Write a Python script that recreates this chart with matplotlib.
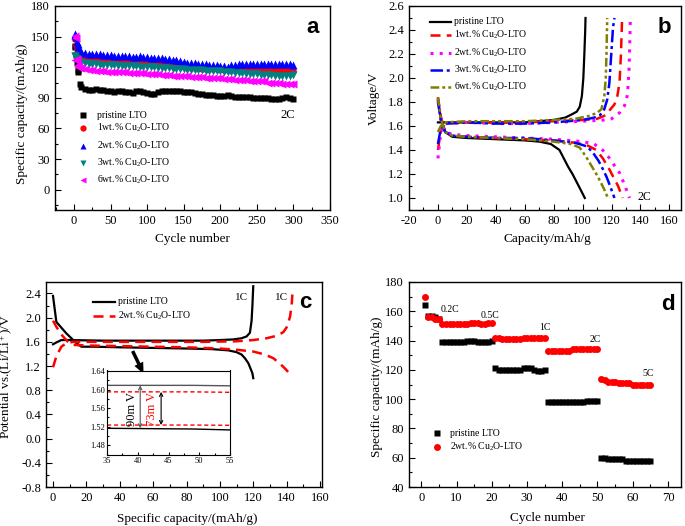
import numpy as np
import matplotlib
matplotlib.use("Agg")
import matplotlib.pyplot as plt
from matplotlib.lines import Line2D
from matplotlib.ticker import MultipleLocator

plt.rcParams['font.family'] = ['Liberation Serif', 'DejaVu Serif']
plt.rcParams['mathtext.fontset'] = 'custom'
plt.rcParams['mathtext.rm'] = 'Liberation Serif'
plt.rcParams['mathtext.it'] = 'Liberation Serif:italic'
plt.rcParams['axes.unicode_minus'] = False

W, H = 685, 526

# ---------------- data: panel a (cycling at 2C) ----------------
cyc_a = [1, 2, 3, 4, 5, 6, 8, 10] + list(range(15, 301, 5))
cap_a_pristine = [141, 140, 132, 124, 117, 115, 104, 101,
                  99, 98, 98, 99, 98, 98, 97, 97, 96, 97,
                  97, 96, 96, 95, 97, 97, 96, 95, 94, 94,
                  96, 97, 97, 97, 97, 97, 97, 96, 96, 96,
                  95, 94, 94, 93, 93, 93, 92, 92, 92, 93,
                  92, 91, 91, 91, 91, 91, 90, 90, 90, 90,
                  90, 89, 89, 89, 90, 91, 90, 89]
cap_a_1wt = [149, 148, 142, 138, 136, 132, 129, 128,
             128, 128, 127, 127, 127, 127, 126, 126, 126, 126,
             126, 126, 125, 125, 125, 125, 125, 125, 124, 124,
             123, 123, 122, 122, 121, 121, 121, 120, 120, 119,
             119, 119, 118, 118, 118, 118, 118, 118, 117, 117,
             117, 117, 117, 117, 117, 117, 117, 117, 117, 117,
             117, 117, 117, 117, 117, 117, 116, 116]
cap_a_2wt = [152, 153, 150, 145, 143, 140, 137, 135,
             134, 133, 133, 133, 133, 132, 132, 132, 131, 131,
             131, 131, 131, 130, 130, 131, 130, 130, 129, 129,
             129, 129, 128, 128, 127, 127, 126, 125, 124, 124,
             124, 123, 123, 123, 122, 122, 122, 121, 121, 120,
             122, 122, 123, 123, 123, 123, 123, 123, 123, 123,
             123, 123, 123, 123, 123, 123, 123, 122]
cap_a_3wt = [131, 131, 129, 128, 127, 126, 125, 124,
             124, 123, 123, 123, 122, 122, 122, 122, 122, 121,
             121, 121, 121, 121, 121, 120, 120, 120, 120, 120,
             119, 119, 119, 119, 118, 118, 118, 118, 117, 117,
             117, 117, 117, 116, 116, 116, 116, 116, 115, 115,
             115, 114, 114, 114, 113, 113, 113, 113, 112, 112,
             112, 112, 111, 111, 111, 111, 111, 112]
cap_a_6wt = [127, 151, 149, 128, 122, 120, 119, 119,
             118, 117, 117, 116, 116, 116, 115, 115, 115, 115,
             115, 115, 114, 114, 114, 114, 114, 113, 113, 113,
             113, 112, 112, 112, 111, 111, 111, 111, 111, 110,
             110, 110, 110, 109, 109, 109, 109, 109, 108, 108,
             108, 107, 107, 107, 107, 106, 106, 106, 106, 106,
             105, 105, 105, 105, 104, 104, 104, 104]

# ---------------- data: panel b (charge/discharge at 2C) ----------------
b_pristine_dis_x = [0, 2, 5, 10, 20, 40, 60, 70, 78, 84, 87, 90, 93, 96, 99, 101.5]
b_pristine_dis_v = [1.82, 1.66, 1.55, 1.51, 1.50, 1.49, 1.48, 1.47, 1.45, 1.40, 1.33, 1.26, 1.20, 1.13, 1.06, 1.00]
b_pristine_chg_x = [0, 5, 20, 40, 60, 70, 80, 88, 93, 96, 98, 99.5, 100.5, 101.2, 101.8, 102]
b_pristine_chg_v = [1.63, 1.63, 1.63, 1.63, 1.63, 1.64, 1.65, 1.67, 1.70, 1.72, 1.76, 1.85, 2.0, 2.2, 2.4, 2.5]

b_1wt_dis_x = [0, 2, 5, 10, 20, 40, 60, 80, 95, 103, 109.5, 114, 118, 121, 124.5, 127.7]
b_1wt_dis_v = [1.84, 1.68, 1.55, 1.52, 1.51, 1.50, 1.49, 1.48, 1.46, 1.44, 1.40, 1.33, 1.25, 1.18, 1.10, 1.00]
b_1wt_chg_x = [0, 2, 5, 20, 40, 60, 80, 100, 110, 116, 118.6, 122, 124, 125.5, 126.5, 127.3]
b_1wt_chg_v = [1.40, 1.56, 1.62, 1.63, 1.63, 1.63, 1.64, 1.65, 1.66, 1.69, 1.73, 1.78, 1.85, 1.96, 2.2, 2.5]

b_2wt_dis_x = [0, 2, 5, 10, 20, 40, 60, 80, 100, 108, 113.8, 118, 122, 125.5, 129, 132.4]
b_2wt_dis_v = [1.82, 1.66, 1.55, 1.53, 1.52, 1.51, 1.50, 1.49, 1.47, 1.45, 1.40, 1.34, 1.27, 1.21, 1.11, 1.00]
b_2wt_chg_x = [0, 2, 5, 20, 40, 60, 80, 100, 115, 120, 125.5, 129, 131, 132.2, 133]
b_2wt_chg_v = [1.33, 1.55, 1.62, 1.63, 1.62, 1.62, 1.63, 1.64, 1.65, 1.66, 1.71, 1.77, 1.86, 2.1, 2.5]

b_3wt_dis_x = [0, 2, 5, 10, 20, 40, 60, 80, 95, 103, 107, 111, 114, 116.4, 119, 122]
b_3wt_dis_v = [1.80, 1.65, 1.55, 1.52, 1.51, 1.50, 1.50, 1.48, 1.46, 1.43, 1.38, 1.31, 1.24, 1.18, 1.10, 1.00]
b_3wt_chg_x = [0, 2, 5, 20, 40, 60, 80, 100, 108, 112, 115, 117, 118.5, 119.8, 121, 122]
b_3wt_chg_v = [1.45, 1.58, 1.62, 1.63, 1.62, 1.62, 1.63, 1.65, 1.67, 1.69, 1.74, 1.82, 1.96, 2.2, 2.42, 2.5]

b_6wt_dis_x = [0, 2, 5, 10, 20, 40, 60, 80, 92, 98, 102.6, 106, 109, 111.7, 115, 117.5]
b_6wt_dis_v = [1.84, 1.66, 1.55, 1.52, 1.51, 1.50, 1.49, 1.47, 1.45, 1.42, 1.34, 1.27, 1.21, 1.15, 1.07, 1.00]
b_6wt_chg_x = [0, 2, 5, 20, 40, 60, 80, 95, 103, 106, 110, 113, 115, 116, 116.5, 117]
b_6wt_chg_v = [1.55, 1.60, 1.63, 1.64, 1.64, 1.64, 1.65, 1.66, 1.68, 1.69, 1.71, 1.74, 1.85, 2.0, 2.2, 2.5]

# ---------------- data: panel c (1C curves + inset) ----------------
c_pristine_dis_x = [0, 2, 8, 14, 17, 25, 40, 60, 80, 95, 105, 110, 113, 115, 117, 118.5, 119.5, 120]
c_pristine_dis_v = [2.36, 1.93, 1.74, 1.58, 1.52, 1.52, 1.51, 1.50, 1.49, 1.48, 1.46, 1.43, 1.39, 1.33, 1.25, 1.15, 1.08, 1.00]
c_pristine_chg_x = [0, 2, 5, 10, 30, 60, 90, 100, 108, 113, 116, 118, 119, 119.5, 120]
c_pristine_chg_v = [1.56, 1.59, 1.63, 1.63, 1.62, 1.62, 1.62, 1.63, 1.64, 1.66, 1.69, 1.75, 1.95, 2.2, 2.52]
c_2wt_dis_x = [0, 2, 5, 9, 12, 20, 40, 60, 80, 100, 110, 120, 127, 132, 136, 139, 141, 143]
c_2wt_dis_v = [1.95, 1.85, 1.72, 1.60, 1.55, 1.54, 1.53, 1.52, 1.51, 1.49, 1.47, 1.44, 1.39, 1.33, 1.24, 1.16, 1.10, 1.06]
c_2wt_chg_x = [0, 2, 5, 8, 12, 30, 60, 90, 110, 120, 128, 134, 138, 140, 142, 143, 143.6]
c_2wt_chg_v = [1.18, 1.36, 1.52, 1.58, 1.60, 1.60, 1.60, 1.60, 1.61, 1.63, 1.66, 1.70, 1.76, 1.84, 2.01, 2.2, 2.45]

inset_x = [35, 49, 55]
inset_pristine_chg = [1.609, 1.609, 1.608]
inset_pristine_dis = [1.5165, 1.515, 1.513]
inset_2wt_chg = [1.595, 1.595, 1.594]
inset_2wt_dis = [1.5235, 1.5235, 1.523]

# ---------------- data: panel d (rate capability) ----------------
cyc_d = list(range(1, 66))
cap_d_pristine = [164,
                  157, 157, 156, 155,
                  139, 139, 139, 139, 139, 139, 139, 140, 140, 140, 139, 139, 139, 139, 140,
                  121, 120, 120, 120, 120, 120, 120, 120, 121, 121, 121, 120, 119, 119, 120,
                  98, 98, 98, 98, 98, 98, 98, 98, 98, 98, 98, 99, 99, 99, 99,
                  60, 60, 59, 59, 59, 59, 59, 58, 58, 58, 58, 58, 58, 58, 58]
cap_d_2wt = [170,
             156, 156, 155, 155,
             151, 151, 151, 151, 151, 151, 151, 151, 152, 152, 152, 151, 151, 152, 152,
             142, 142, 141, 141, 141, 141, 141, 141, 142, 142, 142, 142, 142, 142, 142,
             133, 133, 133, 133, 133, 133, 133, 134, 134, 134, 134, 134, 134, 134, 134,
             114, 113, 112, 112, 112, 111, 111, 111, 111, 110, 110, 110, 110, 110, 110]
rate_labels = ['0.2C', '0.5C', '1C', '2C', '5C']
rate_label_x = [8.2, 19.5, 35.1, 49.3, 64.4]
rate_label_y = [161.3, 156.8, 148.8, 140.4, 117.6]

lab_pristine = 'pristine LTO'
lab_wt = ['1wt.% Cu$_{\\rm 2}$O-LTO', '2wt.% Cu$_{\\rm 2}$O-LTO',
          '3wt.% Cu$_{\\rm 2}$O-LTO', '6wt.% Cu$_{\\rm 2}$O-LTO']

RED, BLUE, MAG, TEAL, OLIVE = '#FF0000', '#0000FF', '#FF00FF', '#008080', '#808000'


def ax_px(left, right, top, bottom):
    return [left / W, 1 - bottom / H, (right - left) / W, (bottom - top) / H]


def fx(px):
    return px / W


def fy(py):
    return 1 - py / H


def style_axes(ax, xmaj, xmin, ymaj, ymin, size=9):
    ax.xaxis.set_major_locator(MultipleLocator(xmaj))
    ax.xaxis.set_minor_locator(MultipleLocator(xmin))
    ax.yaxis.set_major_locator(MultipleLocator(ymaj))
    ax.yaxis.set_minor_locator(MultipleLocator(ymin))
    ax.tick_params(which='both', direction='in', top=False, right=False, labelsize=size)
    ax.tick_params(which='major', length=4, width=0.8)
    ax.tick_params(which='minor', length=2, width=0.8)
    for s in ax.spines.values():
        s.set_linewidth(1.0)


fig = plt.figure(figsize=(W / 100, H / 100), dpi=100)

# ================= panel a =================
ax = fig.add_axes(ax_px(55, 330, 6, 210))
ax.plot(cyc_a, cap_a_pristine, 's', color='k', ms=4.5, mec='none')
ax.plot(cyc_a, cap_a_1wt, 'o', color=RED, ms=4.8, mec='none')
ax.plot(cyc_a, cap_a_2wt, '^', color=BLUE, ms=5.2, mec='none')
ax.plot(cyc_a, cap_a_3wt, 'v', color=TEAL, ms=5.2, mec='none')
ax.plot(cyc_a, cap_a_6wt, '<', color=MAG, ms=5.2, mec='none')
ax.set_xlim(-26, 350)
ax.set_ylim(-20, 180)
style_axes(ax, 50, 25, 30, 15)
ax.set_xlabel('Cycle number', fontsize=9.5)
ax.set_ylabel('Specific capacity/(mAh/g)', fontsize=9.5)
ax.xaxis.set_label_coords(0.5, -0.113)
ax.yaxis.set_label_coords(-0.098, 0.47)
ax.text(292, 73, '2C', fontsize=9, ha='center', va='center')
ax.text(0.935, 0.893, 'a', transform=ax.transAxes, fontsize=16, fontweight='bold',
        family='Liberation Sans', ha='center', va='center')
keys_a = [('s', 'k', lab_pristine), ('o', RED, lab_wt[0]), ('^', BLUE, lab_wt[1]),
          ('v', TEAL, lab_wt[2]), ('<', MAG, lab_wt[3])]
for (m, c, t), yy in zip(keys_a, [115, 128, 145.5, 163, 180]):
    fig.add_artist(Line2D([fx(83)], [fy(yy)], marker=m, color=c, ms=4.5, mec='none', lw=0))
    fig.text(fx(97), fy(yy), t, fontsize=7, va='center')

# ================= panel b =================
ax = fig.add_axes(ax_px(409, 681, 6, 210))
series_b = [
    (b_pristine_dis_x, b_pristine_dis_v, b_pristine_chg_x, b_pristine_chg_v, 'k', '-', 1.6),
    (b_1wt_dis_x, b_1wt_dis_v, b_1wt_chg_x, b_1wt_chg_v, RED, (0, (4, 2.5)), 1.8),
    (b_2wt_dis_x, b_2wt_dis_v, b_2wt_chg_x, b_2wt_chg_v, MAG, (0, (1, 2)), 2.2),
    (b_3wt_dis_x, b_3wt_dis_v, b_3wt_chg_x, b_3wt_chg_v, BLUE, (0, (5, 1.5, 1.2, 1.5)), 1.8),
    (b_6wt_dis_x, b_6wt_dis_v, b_6wt_chg_x, b_6wt_chg_v, OLIVE, (0, (3.5, 1.2, 1.2, 1.2, 1.2, 1.2)), 1.8),
]
for dx, dv, cx, cv, c, ls, lw in series_b:
    ax.plot(dx, dv, color=c, ls=ls, lw=lw)
    ax.plot(cx, cv, color=c, ls=ls, lw=lw)
ax.set_xlim(-20, 168)
ax.set_ylim(0.9, 2.6)
style_axes(ax, 20, 10, 0.2, 0.1)
ax.set_xlabel('Capacity/mAh/g', fontsize=9.5)
ax.set_ylabel('Voltage/V', fontsize=9.5)
ax.xaxis.set_label_coords(0.51, -0.113)
ax.yaxis.set_label_coords(-0.107, 0.55)
ax.text(143, 1.01, '2C', fontsize=8.5, ha='center', va='center')
ax.text(0.94, 0.893, 'b', transform=ax.transAxes, fontsize=16, fontweight='bold',
        family='Liberation Sans', ha='center', va='center')
labs_b = [lab_pristine] + lab_wt
for (dx, dv, cx, cv, c, ls, lw), t, yy in zip(series_b, labs_b, [22, 35, 52.5, 70, 87]):
    fig.add_artist(Line2D([fx(430), fx(451)], [fy(yy), fy(yy)], color=c, ls=ls, lw=lw))
    fig.text(fx(454), fy(yy), t, fontsize=7, va='center')

# ================= panel c =================
ax = fig.add_axes(ax_px(46, 322, 282, 487))
ax.plot(c_pristine_dis_x, c_pristine_dis_v, color='k', lw=1.6)
ax.plot(c_pristine_chg_x, c_pristine_chg_v, color='k', lw=1.6)
ax.plot(c_2wt_dis_x, c_2wt_dis_v, color=RED, ls=(0, (4, 2.5)), lw=1.8)
ax.plot(c_2wt_chg_x, c_2wt_chg_v, color=RED, ls=(0, (4, 2.5)), lw=1.8)
ax.set_xlim(-4.2, 161.2)
ax.set_ylim(-0.8, 2.59)
style_axes(ax, 20, 10, 0.4, 0.2)
ax.set_xlabel('Specific capacity/(mAh/g)', fontsize=9.5)
ax.set_ylabel('Potential vs.(Li/Li$^{\\rm +}$)/V', fontsize=9.5)
ax.xaxis.set_label_coords(0.51, -0.127)
ax.yaxis.set_label_coords(-0.112, 0.54)
ax.text(113, 2.34, '1C', fontsize=8, ha='center', va='center')
ax.text(137, 2.34, '1C', fontsize=8, ha='center', va='center')
ax.annotate('', xy=(55, 1.03), xytext=(47, 1.49),
            arrowprops=dict(arrowstyle='simple,head_width=0.7,head_length=0.8,tail_width=0.25',
                            color='k', lw=0))
ax.text(0.938, 0.90, 'c', transform=ax.transAxes, fontsize=16, fontweight='bold',
        family='Liberation Sans', ha='center', va='center')
fig.add_artist(Line2D([fx(93), fx(115)], [fy(302), fy(302)], color='k', lw=1.6))
fig.text(fx(118), fy(302), lab_pristine, fontsize=7, va='center')
fig.add_artist(Line2D([fx(93), fx(115)], [fy(316), fy(316)], color=RED, ls=(0, (4, 2.5)), lw=1.8))
fig.text(fx(118), fy(316), lab_wt[1], fontsize=7, va='center')

# inset
axi = fig.add_axes(ax_px(107, 230, 370.5, 455))
axi.plot(inset_x, inset_pristine_chg, color='#555555', lw=1.0)
axi.plot(inset_x, inset_pristine_dis, color='k', lw=1.0)
axi.plot(inset_x, inset_2wt_chg, color=RED, ls=(0, (3, 2)), lw=1.0)
axi.plot(inset_x, inset_2wt_dis, color=RED, ls=(0, (3, 2)), lw=1.0)
axi.set_xlim(35, 55)
axi.set_ylim(1.459, 1.641)
style_axes(axi, 5, 2.5, 0.04, 0.02, size=6)
axi.tick_params(which='major', length=2.5, pad=1.5)
axi.tick_params(which='minor', length=1.5)
axi.annotate('', xy=(40.4, inset_pristine_dis[0]), xytext=(40.4, inset_pristine_chg[0]),
             arrowprops=dict(arrowstyle='<->', color='#555555', lw=0.8,
                             mutation_scale=6, shrinkA=0, shrinkB=0))
axi.annotate('', xy=(43.8, inset_2wt_dis[0]), xytext=(43.8, inset_2wt_chg[0]),
             arrowprops=dict(arrowstyle='<->', color='k', lw=0.8,
                             mutation_scale=6, shrinkA=0, shrinkB=0))
axi.text(39.1, 1.559, '90m V', rotation=90, fontsize=9, ha='center', va='center')
axi.text(42.3, 1.559, '73m V', rotation=90, fontsize=9, color=RED, ha='center', va='center')
for s in axi.spines.values():
    s.set_linewidth(0.8)

# ================= panel d =================
ax = fig.add_axes(ax_px(409, 681, 282, 487))
ax.plot(cyc_d, cap_d_pristine, 's', color='k', ms=5, mec='none')
ax.plot(cyc_d, cap_d_2wt, 'o', color=RED, ms=5, mec='none')
ax.set_xlim(-3.5, 73.7)
ax.set_ylim(40, 180)
style_axes(ax, 10, 5, 20, 10)
ax.set_xlabel('Cycle number', fontsize=9.5)
ax.set_ylabel('Specific capacity/(mAh/g)', fontsize=9.5)
ax.xaxis.set_label_coords(0.51, -0.122)
ax.yaxis.set_label_coords(-0.096, 0.49)
for t, x, y in zip(rate_labels, rate_label_x, rate_label_y):
    ax.text(x, y, t, fontsize=7, ha='center', va='center')
ax.text(0.952, 0.888, 'd', transform=ax.transAxes, fontsize=16, fontweight='bold',
        family='Liberation Sans', ha='center', va='center')
fig.add_artist(Line2D([fx(437)], [fy(433)], marker='s', color='k', ms=5, mec='none', lw=0))
fig.text(fx(450), fy(433), lab_pristine, fontsize=7, va='center')
fig.add_artist(Line2D([fx(437)], [fy(447)], marker='o', color=RED, ms=5, mec='none', lw=0))
fig.text(fx(450), fy(447), lab_wt[1], fontsize=7, va='center')

fig.savefig('out.png', dpi=100)
